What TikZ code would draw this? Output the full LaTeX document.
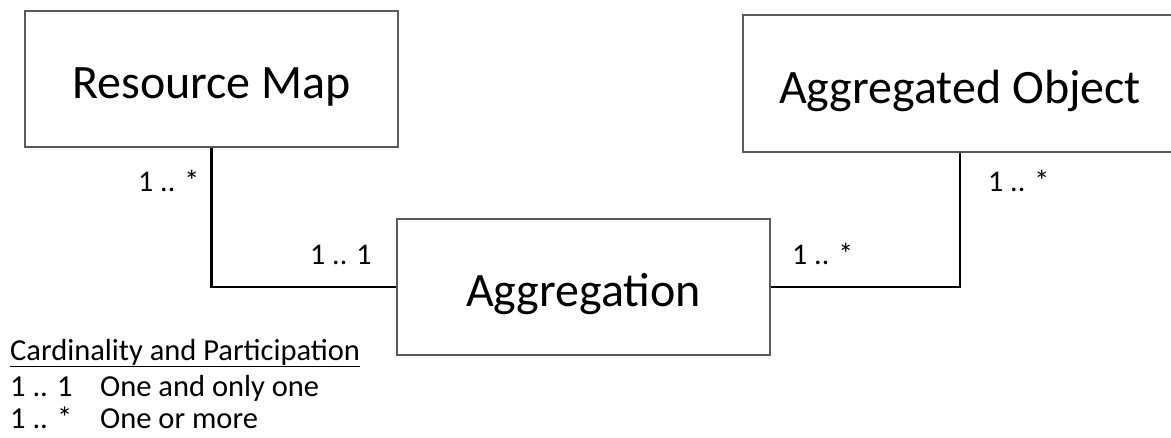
\documentclass[tikz,border=0pt]{standalone}
\usepackage{fontspec}
\setmainfont{Carlito}
\begin{document}
\begin{tikzpicture}[x=1pt,y=-1pt,
  entity/.style={draw=black!65, line width=1.3pt, fill=white, inner sep=0pt,
    text height=40pt, text depth=0pt, font=\fontsize{48}{52}\selectfont},
  conn/.style={draw=black, line width=2.4pt},
  card/.style={inner sep=0pt, anchor=base west, font=\fontsize{30}{34}\selectfont},
  legend/.style={inner sep=0pt, anchor=base west, font=\fontsize{30.5}{34}\selectfont}]
\useasboundingbox (0,0) rectangle (1171,438);
\clip (0,0) rectangle (1171,438);
% entities
\node[entity, minimum width=373pt, minimum height=136pt] (rm) at (211.5,79) {Resource Map};
\node[entity, minimum width=434pt, minimum height=137pt] (ao) at (960,83.5) {Aggregated Object};
\node[entity, minimum width=373pt, minimum height=136pt] (ag) at (583.5,287) {Aggregation};
% connectors
\draw[conn] (rm.south) |- (ag.west);
\draw[conn] (ao.south) |- (ag.east);
% cardinalities
\node[card] (c1) at (138,192) {1 .. *};
\node[card] (c2) at (310,265) {1 .. 1};
\node[card] (c3) at (792,265) {1 .. *};
\node[card] (c4) at (988,192) {1 .. *};
% legend
\node[legend] (lh) at (10,361) {Cardinality and Participation};
\draw[line width=1.3pt] ([yshift=-5.5pt]lh.base west) -- ([yshift=-5.5pt]lh.base east);
\node[legend] (l1a) at (10,397) {1 .. 1};
\node[legend] (l1b) at (100,397) {One and only one};
\node[legend] (l2a) at (10,429) {1 .. *};
\node[legend] (l2b) at (100,429) {One or more};
\end{tikzpicture}
\end{document}
